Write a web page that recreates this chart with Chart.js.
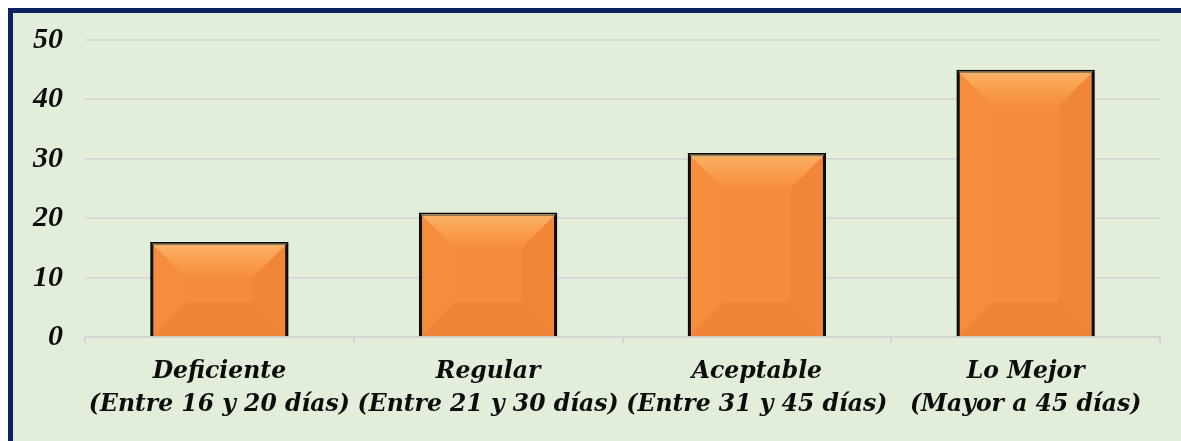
<!DOCTYPE html>
<html>
<head>
<meta charset="utf-8">
<script src="https://cdn.jsdelivr.net/npm/chart.js@4/dist/chart.umd.min.js"></script>
<style>
  html, body { margin: 0; padding: 0; background: #ffffff; }
  #panel {
    position: absolute; left: 8px; top: 8px;
    width: 1180px; height: 430px;
    background: #e2eed9;
    border: 5px solid #0b2160;
    border-right: none;
    border-bottom-width: 2px;
  }
  #wrap { position: absolute; left: 0; top: 0; width: 1181px; height: 441px; }
</style>
</head>
<body>
<div id="panel"></div>
<div id="wrap"><canvas id="chart" width="1181" height="441"></canvas></div>
<script>
// categories (two-line labels) and values
const categories = [
    ['Deficiente', '(Entre 16 y 20 días)'],
    ['Regular', '(Entre 21 y 30 días)'],
    ['Aceptable', '(Entre 31 y 45 días)'],
    ['Lo Mejor', '(Mayor a 45 días)']
];
const values = [16, 21, 31, 45];
const yTicks = [0, 10, 20, 30, 40, 50];

const xFont = { family: '"DejaVu Serif", "Liberation Serif", serif', size: 23.5, weight: 'bold', style: 'italic', lineHeight: 1.4 };
const yFont = { family: '"Liberation Serif", "DejaVu Serif", serif', size: 30, weight: 'bold', style: 'italic' };

// orange fill with a horizontal shading
function barFill(ctx) {
    const el = ctx.element;
    if (!el || el.width === undefined) return '#f68b3b';
    const x0 = el.x - el.width / 2, x1 = el.x + el.width / 2;
    const g = ctx.chart.ctx.createLinearGradient(x0, 0, x1, 0);
    g.addColorStop(0, '#f98e3f');
    g.addColorStop(0.6, '#f88b3a');
    g.addColorStop(0.85, '#f08430');
    g.addColorStop(1, '#e0752c');
    return g;
}

// soft bevel overlay on each bar
const bevel = {
    id: 'bevel',
    afterDatasetDraw(chart) {
        const c = chart.ctx;
        chart.getDatasetMeta(0).data.forEach(bar => {
            const l = bar.x - bar.width / 2 + 1.5, r = bar.x + bar.width / 2 - 1.5;
            const t = bar.y + 1.5, b = bar.base;
            const d = Math.min(34, (r - l) / 3, (b - t) / 2);
            c.save();
            const tg = c.createLinearGradient(0, t, 0, t + d);
            tg.addColorStop(0, 'rgba(255,205,130,0.6)');
            tg.addColorStop(1, 'rgba(255,190,110,0.08)');
            c.fillStyle = tg;
            c.beginPath(); c.moveTo(l, t); c.lineTo(r, t); c.lineTo(r - d, t + d); c.lineTo(l + d, t + d); c.closePath(); c.fill();
            c.fillStyle = 'rgba(190,80,10,0.08)';
            c.beginPath(); c.moveTo(r, t); c.lineTo(r, b); c.lineTo(r - d, b - d); c.lineTo(r - d, t + d); c.closePath(); c.fill();
            c.fillStyle = 'rgba(200,90,20,0.1)';
            c.beginPath(); c.moveTo(l, b); c.lineTo(r, b); c.lineTo(r - d, b - d); c.lineTo(l + d, b - d); c.closePath(); c.fill();
            c.fillStyle = 'rgba(255,170,90,0.08)';
            c.beginPath(); c.moveTo(l, t); c.lineTo(l, b); c.lineTo(l + d, b - d); c.lineTo(l + d, t + d); c.closePath(); c.fill();
            c.restore();
        });
    }
};

new Chart(document.getElementById('chart').getContext('2d'), {
    type: 'bar',
    data: {
        labels: categories,
        datasets: [{
            data: values,
            backgroundColor: barFill,
            borderColor: '#0a0a0a',
            borderWidth: 3.5,
            borderSkipped: 'bottom',
            categoryPercentage: 1,
            barPercentage: 0.515
        }]
    },
    options: {
        responsive: false,
        animation: false,
        layout: { padding: { left: 11, right: 21, top: 40, bottom: 8 } },
        plugins: { legend: { display: false }, tooltip: { enabled: false } },
        scales: {
            x: {
                grid: { offset: true, drawOnChartArea: false, color: '#d4d4d4', lineWidth: 2, tickLength: 6 },
                border: { color: '#d4d4d4', width: 2 },
                ticks: {
                    autoSkip: false, maxRotation: 0, color: '#0d0d0d',
                    font: xFont, padding: 12
                }
            },
            y: {
                min: 0, max: 50,
                afterBuildTicks(axis) { axis.ticks = yTicks.map(v => ({ value: v })); },
                grid: { color: '#d8d8d8', lineWidth: 2, drawTicks: false },
                border: { display: false },
                ticks: { color: '#0d0d0d', font: yFont, padding: 22 }
            }
        }
    },
    plugins: [bevel]
});
</script>
</body>
</html>
